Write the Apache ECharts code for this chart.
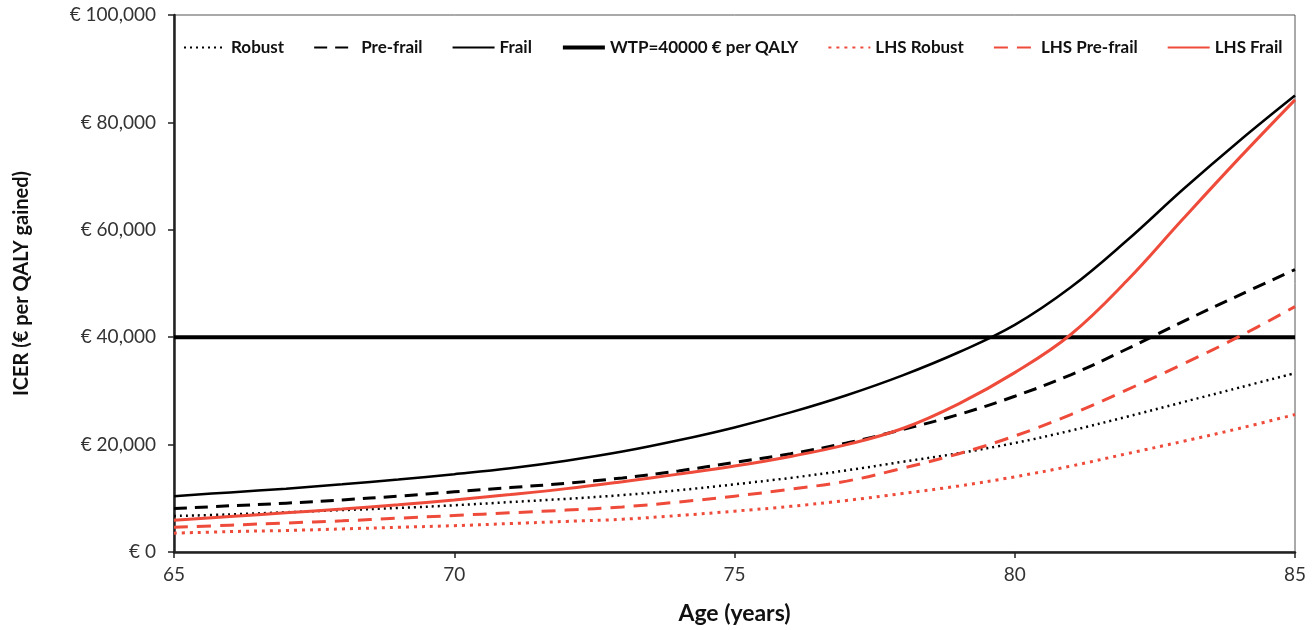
<!DOCTYPE html>
<html>
<head>
<meta charset="utf-8">
<script src="https://cdn.jsdelivr.net/npm/echarts@6/dist/echarts.min.js"></script>
<style>
  html, body { margin: 0; padding: 0; background: #fff; }
  #chart { width: 1312px; height: 630px; }
</style>
</head>
<body>
<div id="chart"></div>
<script>
// ages on the x axis
const ages = [65, 66, 67, 68, 69, 70, 71, 72, 73, 74, 75, 76, 77, 78, 79, 80, 81, 82, 83, 84, 85];

// ICER values, € per QALY gained
const robust = [6700, 7000, 7400, 7800, 8200, 8700, 9300, 9900, 10600, 11500, 12600, 13800, 15200, 16800, 18400, 20300, 22600, 25200, 27900, 30600, 33300];
const preFrail = [8100, 8600, 9100, 9700, 10400, 11200, 12000, 12800, 13800, 15100, 16700, 18300, 20300, 22800, 25600, 29000, 33000, 37800, 42900, 47800, 52600];
const frail = [10400, 11100, 11800, 12600, 13500, 14500, 15600, 17000, 18700, 20800, 23200, 26000, 29200, 32900, 37200, 42300, 49300, 58000, 67500, 76500, 85000];
const lhsRobust = [3500, 3800, 4000, 4300, 4600, 4900, 5300, 5700, 6100, 6800, 7600, 8500, 9600, 10900, 12300, 14000, 16000, 18300, 20600, 23000, 25600];
const lhsPreFrail = [4600, 5000, 5400, 5800, 6300, 6800, 7300, 7800, 8400, 9300, 10400, 11700, 13200, 15600, 18300, 21600, 25600, 30200, 35000, 40100, 45700];
const lhsFrail = [5900, 6600, 7300, 8000, 8800, 9700, 10700, 11800, 13100, 14500, 16000, 17800, 20000, 23000, 27600, 33400, 40500, 50500, 62000, 73300, 84200];

const wtpAges = [65, 85];
const wtp = [40000, 40000];

const black = '#000';
const red = '#ee4b3b';
const font = 'Lato, "Open Sans", sans-serif';

const pairs = (xs, ys) => xs.map((x, i) => [x, ys[i]]);

function lineSeries(name, xs, ys, color, width, type) {
  return {
    name: name,
    type: 'line',
    data: pairs(xs, ys),
    smooth: 0.4,
    symbol: 'none',
    silent: true,
    lineStyle: { color: color, width: width, type: type },
    itemStyle: { color: color },
  };
}

const chart = echarts.init(document.getElementById('chart'));

chart.setOption({
  animation: false,
  grid: {
    left: 174,
    right: 17,
    top: 15,
    bottom: 77,
    show: true,
    borderColor: '#555',
    borderWidth: 1,
  },
  legend: {
    top: 34,
    left: 178,
    itemWidth: 42,
    itemHeight: 14,
    itemGap: 29,
    // hide the marker dot so only the line sample is left
    itemStyle: { opacity: 0 },
    textStyle: { fontFamily: font, fontWeight: 'bold', fontSize: 17, color: '#111' },
    data: [
      'Robust',
      'Pre-frail',
      'Frail',
      { name: 'WTP=40000 € per QALY', lineStyle: { width: 4 } },
      'LHS Robust',
      'LHS Pre-frail',
      'LHS Frail',
    ],
  },
  xAxis: {
    type: 'value',
    min: 65,
    max: 85,
    interval: 5,
    name: 'Age (years)',
    nameLocation: 'middle',
    nameGap: 50,
    nameTextStyle: { fontFamily: font, fontWeight: 'bold', fontSize: 23, color: '#111' },
    axisLine: { lineStyle: { color: '#222', width: 2.5 } },
    axisTick: { show: true, length: 6, lineStyle: { color: '#222', width: 1.5 } },
    axisLabel: { fontFamily: font, fontSize: 19, color: '#333', margin: 13 },
    splitLine: { show: false },
  },
  yAxis: {
    type: 'value',
    min: 0,
    max: 100000,
    interval: 20000,
    name: 'ICER (€ per QALY gained)',
    nameLocation: 'middle',
    nameRotate: 90,
    nameGap: 142,
    nameTextStyle: { fontFamily: font, fontWeight: 'bold', fontSize: 20, color: '#111' },
    axisLine: { show: true, lineStyle: { color: '#222', width: 2.5 } },
    axisTick: { show: true, length: 6, lineStyle: { color: '#222', width: 1.5 } },
    axisLabel: {
      fontFamily: font,
      fontSize: 19,
      color: '#333',
      margin: 18,
      formatter: (v) => '€ ' + v.toLocaleString('en-US'),
    },
    splitLine: { show: false },
  },
  series: [
    lineSeries('Robust', ages, robust, black, 2.5, [2, 4]),
    lineSeries('Pre-frail', ages, preFrail, black, 3, [13, 8]),
    lineSeries('Frail', ages, frail, black, 2.5, 'solid'),
    lineSeries('WTP=40000 € per QALY', wtpAges, wtp, black, 4, 'solid'),
    lineSeries('LHS Robust', ages, lhsRobust, red, 3, [3, 5]),
    lineSeries('LHS Pre-frail', ages, lhsPreFrail, red, 3, [14, 9]),
    lineSeries('LHS Frail', ages, lhsFrail, red, 3, 'solid'),
  ],
});
</script>
</body>
</html>
